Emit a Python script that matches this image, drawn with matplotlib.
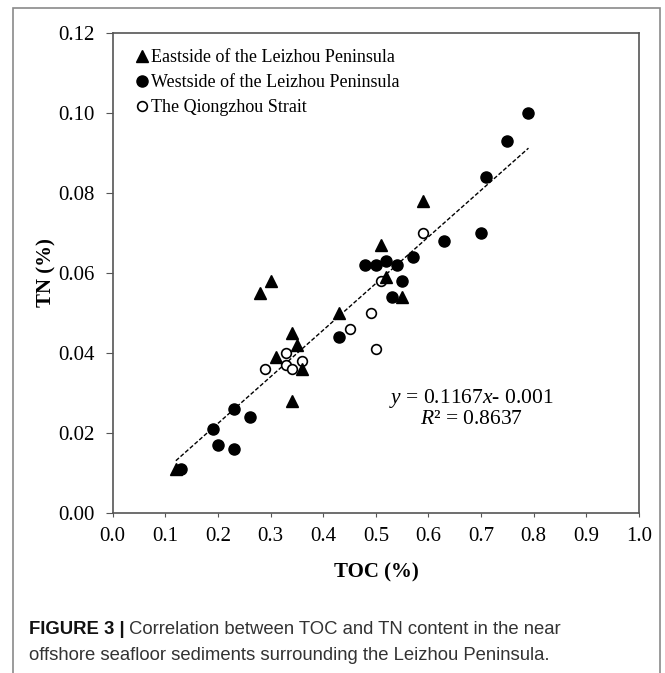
import matplotlib
matplotlib.use("Agg")
from matplotlib import pyplot as plt
from matplotlib.patches import Rectangle
import numpy as np

# Eastside of the Leizhou Peninsula (triangles)
east_toc = [0.12, 0.28, 0.30, 0.31, 0.34, 0.35, 0.36, 0.34, 0.43, 0.51, 0.52, 0.55, 0.59]
east_tn = [0.011, 0.055, 0.058, 0.039, 0.045, 0.042, 0.036, 0.028, 0.050, 0.067, 0.059, 0.054, 0.078]

# Westside of the Leizhou Peninsula (filled circles)
west_toc = [0.13, 0.19, 0.20, 0.23, 0.23, 0.26, 0.43, 0.48, 0.50, 0.52, 0.53, 0.54,
            0.55, 0.57, 0.63, 0.70, 0.71, 0.75, 0.79]
west_tn = [0.011, 0.021, 0.017, 0.016, 0.026, 0.024, 0.044, 0.062, 0.062, 0.063, 0.054, 0.062,
           0.058, 0.064, 0.068, 0.070, 0.084, 0.093, 0.100]

# The Qiongzhou Strait (open circles)
strait_toc = [0.29, 0.33, 0.33, 0.34, 0.36, 0.45, 0.49, 0.50, 0.51, 0.59]
strait_tn = [0.036, 0.040, 0.037, 0.036, 0.038, 0.046, 0.050, 0.041, 0.058, 0.070]

# regression line given in the figure
slope = 0.1167
intercept = -0.001
fit_range = [0.12, 0.79]

x_ticks = [0.0, 0.1, 0.2, 0.3, 0.4, 0.5, 0.6, 0.7, 0.8, 0.9, 1.0]
y_ticks = [0.00, 0.02, 0.04, 0.06, 0.08, 0.10, 0.12]

plt.rcParams['font.family'] = ['Liberation Serif', 'DejaVu Serif']
plt.rcParams['mathtext.fontset'] = 'custom'
plt.rcParams['mathtext.rm'] = 'Liberation Serif'
plt.rcParams['mathtext.it'] = 'Liberation Serif:italic'

fig = plt.figure(figsize=(6.65, 6.73), dpi=100)
W, H = 665, 673

# outer frame around figure + caption
fig.patches.append(Rectangle((13 / W, -0.05), (660 - 13) / W, 1.05 - 8 / H,
                             transform=fig.transFigure, fill=False,
                             edgecolor='#8a8a8a', linewidth=1.2))

ax = fig.add_axes([112.7 / W, 1 - 512.7 / H, (639 - 112.7) / W, (512.7 - 33) / H])

fx = np.array(fit_range)
ax.plot(fx, slope * fx + intercept, color='black', linewidth=1.0, linestyle=(0, (3, 1.5)), zorder=1)

ax.plot(east_toc, east_tn, linestyle='none', marker='^', markersize=9, color='black',
        label='Eastside of the Leizhou Peninsula', zorder=3)
ax.plot(west_toc, west_tn, linestyle='none', marker='o', markersize=8, color='black',
        label='Westside of the Leizhou Peninsula', zorder=3)
ax.plot(strait_toc, strait_tn, linestyle='none', marker='o', markersize=7, markerfacecolor='white',
        markeredgecolor='black', markeredgewidth=1.2, label='The Qiongzhou Strait', zorder=2)

ax.set_xlim(0, 1.0)
ax.set_ylim(0, 0.12)
ax.set_xticks(x_ticks)
ax.set_xticklabels([f"{v:.1f}" for v in x_ticks])
ax.set_yticks(y_ticks)
ax.set_yticklabels([f"{v:.2f}" for v in y_ticks])
ax.tick_params(axis='both', labelsize=15, colors='#555555', labelcolor='black', direction='out')
ax.tick_params(axis='y', length=5, pad=8)
ax.tick_params(axis='x', length=3, pad=7)
for s in ax.spines.values():
    s.set_color('#555555')
    s.set_linewidth(1.2)

ax.legend(loc='upper left', bbox_to_anchor=(0.044, 0.967), frameon=False, fontsize=13,
          handlelength=0.7, handletextpad=0.15, labelspacing=0.45, borderpad=0, borderaxespad=0,
          numpoints=1)

ax.text(0.681, 0.0285, r"$y$ = 0.1167$x$- 0.001", fontsize=15.5, ha='center', va='center')
ax.text(0.681, 0.0233, r"$R$² = 0.8637", fontsize=15.5, ha='center', va='center')

fig.text(376 / W, 1 - 572 / H, "TOC (%)", fontsize=15, fontweight='bold', ha='center', va='center')
fig.text(46 / W, 1 - 273 / H, "TN (%)", fontsize=15, fontweight='bold', ha='center', va='center',
         rotation=90)

# caption
cap_size = 13.3
t1 = fig.text(29 / W, 1 - 630 / H, "FIGURE 3 |", fontsize=cap_size, fontweight='bold',
              family='Liberation Sans', color='#111111', va='center', ha='left')
renderer = fig.canvas.get_renderer()
bb = t1.get_window_extent(renderer=renderer)
fig.text(bb.x1 / W + 4 / W, 1 - 630 / H, "Correlation between TOC and TN content in the near",
         fontsize=cap_size, family='Liberation Sans', color='#333333', va='center', ha='left')
fig.text(29 / W, 1 - 655 / H, "offshore seafloor sediments surrounding the Leizhou Peninsula.",
         fontsize=cap_size, family='Liberation Sans', color='#333333', va='center', ha='left')

fig.savefig('out.png', dpi=100)
